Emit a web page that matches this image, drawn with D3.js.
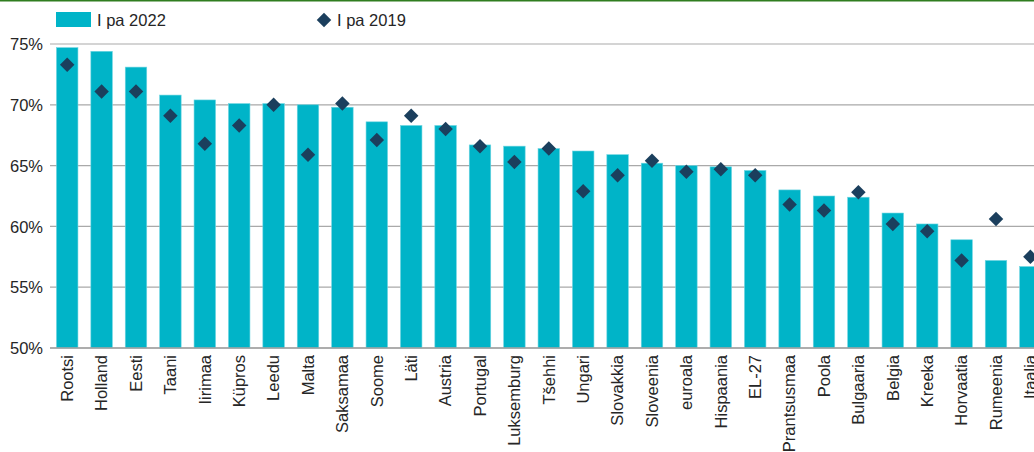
<!DOCTYPE html>
<html>
<head>
<meta charset="utf-8">
<script src="https://cdn.jsdelivr.net/npm/d3@7"></script>
<style>
  body { margin: 0; background: #fff; }
  svg { display: block; font-family: "Liberation Sans", Arial, sans-serif; }
</style>
</head>
<body>
<div id="chart"></div>
<script>
// Data
const countries = ["Rootsi", "Holland", "Eesti", "Taani", "Iirimaa", "Küpros", "Leedu", "Malta",
  "Saksamaa", "Soome", "Läti", "Austria", "Portugal", "Luksemburg", "Tšehhi", "Ungari",
  "Slovakkia", "Sloveenia", "euroala", "Hispaania", "EL-27", "Prantsusmaa", "Poola",
  "Bulgaaria", "Belgia", "Kreeka", "Horvaatia", "Rumeenia", "Itaalia"]
const q1_2022 = [74.7, 74.4, 73.1, 70.8, 70.4, 70.1, 70.1, 70.0, 69.8, 68.6, 68.3, 68.3, 66.7, 66.6,
  66.4, 66.2, 65.9, 65.2, 65.0, 64.9, 64.6, 63.0, 62.5, 62.4, 61.1, 60.2, 58.9, 57.2, 56.7]
const q1_2019 = [73.3, 71.1, 71.1, 69.1, 66.8, 68.3, 70.0, 65.9, 70.1, 67.1, 69.1, 68.0, 66.6, 65.3,
  66.4, 62.9, 64.2, 65.4, 64.5, 64.7, 64.2, 61.8, 61.3, 62.8, 60.2, 59.6, 57.2, 60.6, 57.5]
const yTicks = [50, 55, 60, 65, 70, 75]
const legendLabels = ["I pa 2022", "I pa 2019"]

const width = 1034
const height = 452
const left = 50
const step = 34.4

const svg = d3.select("#chart").append("svg")
  .attr("width", width)
  .attr("height", height)

// top green rule
svg.append("rect")
  .attr("x", 0).attr("y", 0)
  .attr("width", width).attr("height", 1.5)
  .attr("fill", "#2f7d1f")

let x = d3.scaleBand()
  .domain(countries)
  .range([left, left + step * countries.length])
  .paddingInner(0.375)
  .paddingOuter(0.1875)

let y = d3.scaleLinear()
  .domain([50, 75])
  .range([348, 44])

// gridlines
svg.append("g")
  .selectAll("line")
  .data(yTicks)
  .enter().append("line")
  .attr("x1", left)
  .attr("x2", width)
  .attr("y1", d => y(d))
  .attr("y2", d => y(d))
  .attr("stroke", "#a9a9a9")
  .attr("stroke-width", 1.2)

// y axis labels
let yAxis = d3.axisLeft(y).tickValues(yTicks).tickFormat(d => d + "%").tickSize(0).tickPadding(7)
let yg = svg.append("g")
  .attr("transform", "translate(" + left + ",0)")
  .call(yAxis)
yg.select(".domain").remove()
yg.selectAll("text")
  .attr("font-size", "16.5px")
  .attr("font-family", "Liberation Sans, Arial, sans-serif")
  .attr("fill", "#262626")
  .attr("dy", "0.35em")

// bars
svg.append("g")
  .selectAll("rect")
  .data(countries)
  .enter().append("rect")
  .attr("x", d => x(d))
  .attr("width", x.bandwidth())
  .attr("y", (d, i) => y(q1_2022[i]))
  .attr("height", (d, i) => y(50) - y(q1_2022[i]))
  .attr("fill", "#00b4c8")
  .attr("stroke", "#6fd6e2")
  .attr("stroke-width", 0.6)

// baseline
svg.append("line")
  .attr("x1", left).attr("x2", width)
  .attr("y1", y(50)).attr("y2", y(50))
  .attr("stroke", "#a0a0a0")
  .attr("stroke-width", 1.5)

// diamonds
const diamond = d3.symbol().type(d3.symbolSquare).size(105)
svg.append("g")
  .selectAll("path")
  .data(countries)
  .enter().append("path")
  .attr("d", diamond)
  .attr("transform", (d, i) => "translate(" + (x(d) + x.bandwidth() / 2) + "," + y(q1_2019[i]) + ") rotate(45)")
  .attr("fill", "#1b3f5d")

// x axis labels
let xAxis = d3.axisBottom(x).tickSize(0).tickPadding(0)
let xg = svg.append("g")
  .attr("transform", "translate(0," + y(50) + ")")
  .call(xAxis)
xg.select(".domain").remove()
xg.selectAll("text")
  .attr("font-size", "16.5px")
  .attr("font-family", "Liberation Sans, Arial, sans-serif")
  .attr("fill", "#262626")
  .attr("text-anchor", "end")
  .attr("transform", "rotate(-90)")
  .attr("x", -7)
  .attr("y", 0)
  .attr("dy", "0.35em")

// legend
svg.append("rect")
  .attr("x", 56).attr("y", 12)
  .attr("width", 35).attr("height", 15)
  .attr("fill", "#00b4c8")
svg.append("text")
  .attr("x", 97).attr("y", 26)
  .attr("font-size", "16.5px")
  .attr("fill", "#262626")
  .text(legendLabels[0])
svg.append("path")
  .attr("d", diamond)
  .attr("transform", "translate(324,20) rotate(45)")
  .attr("fill", "#1b3f5d")
svg.append("text")
  .attr("x", 337).attr("y", 26)
  .attr("font-size", "16.5px")
  .attr("fill", "#262626")
  .text(legendLabels[1])
</script>
</body>
</html>
